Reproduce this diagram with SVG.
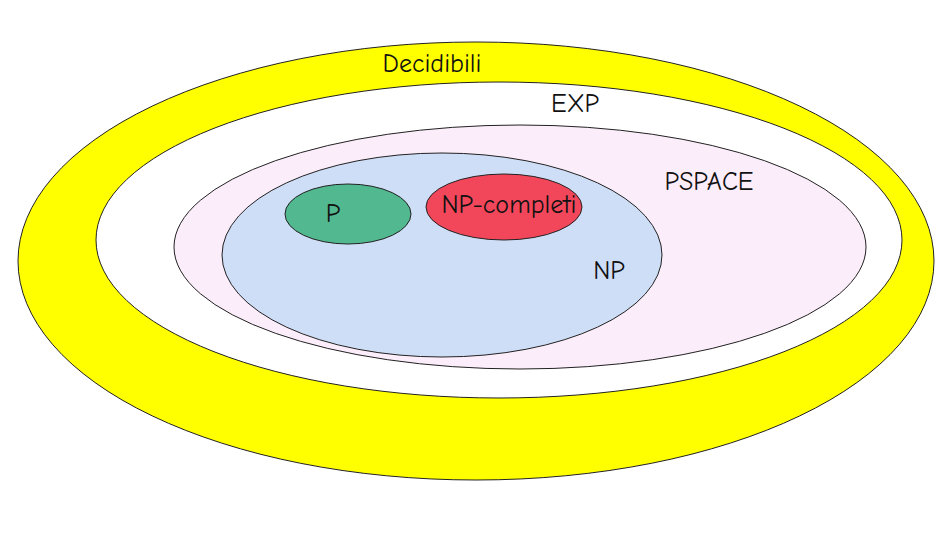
<svg xmlns="http://www.w3.org/2000/svg" width="949" height="546" viewBox="0 0 949 546">
<style>
.e{stroke:#222;stroke-width:1}
.t{font-family:"Comic Neue","Liberation Sans",sans-serif;font-size:26px;fill:#111;text-anchor:middle}
</style>
<rect width="949" height="546" fill="#fff"/>
<g id="decidibili"><ellipse class="e" cx="476" cy="261" rx="458" ry="219" fill="#ffff00"/><text class="t" x="432" y="72">Decidibili</text></g>
<g id="exp"><ellipse class="e" cx="499" cy="240" rx="403" ry="158" fill="#ffffff"/><text class="t" x="575" y="112">EXP</text></g>
<g id="pspace"><ellipse class="e" cx="520" cy="247" rx="346" ry="122" fill="#fcedfa"/><text class="t" x="709" y="190">PSPACE</text></g>
<g id="np"><ellipse class="e" cx="442" cy="255" rx="220" ry="102" fill="#cfdef7"/><text class="t" x="609" y="279">NP</text></g>
<g id="p"><ellipse class="e" cx="348" cy="214" rx="63" ry="30" fill="#52b88f"/><text class="t" x="333" y="222">P</text></g>
<g id="npc"><ellipse class="e" cx="504" cy="207" rx="78" ry="33" fill="#f2475a"/><text class="t" x="509" y="213">NP-completi</text></g>
<g id="connectors"/>
</svg>
